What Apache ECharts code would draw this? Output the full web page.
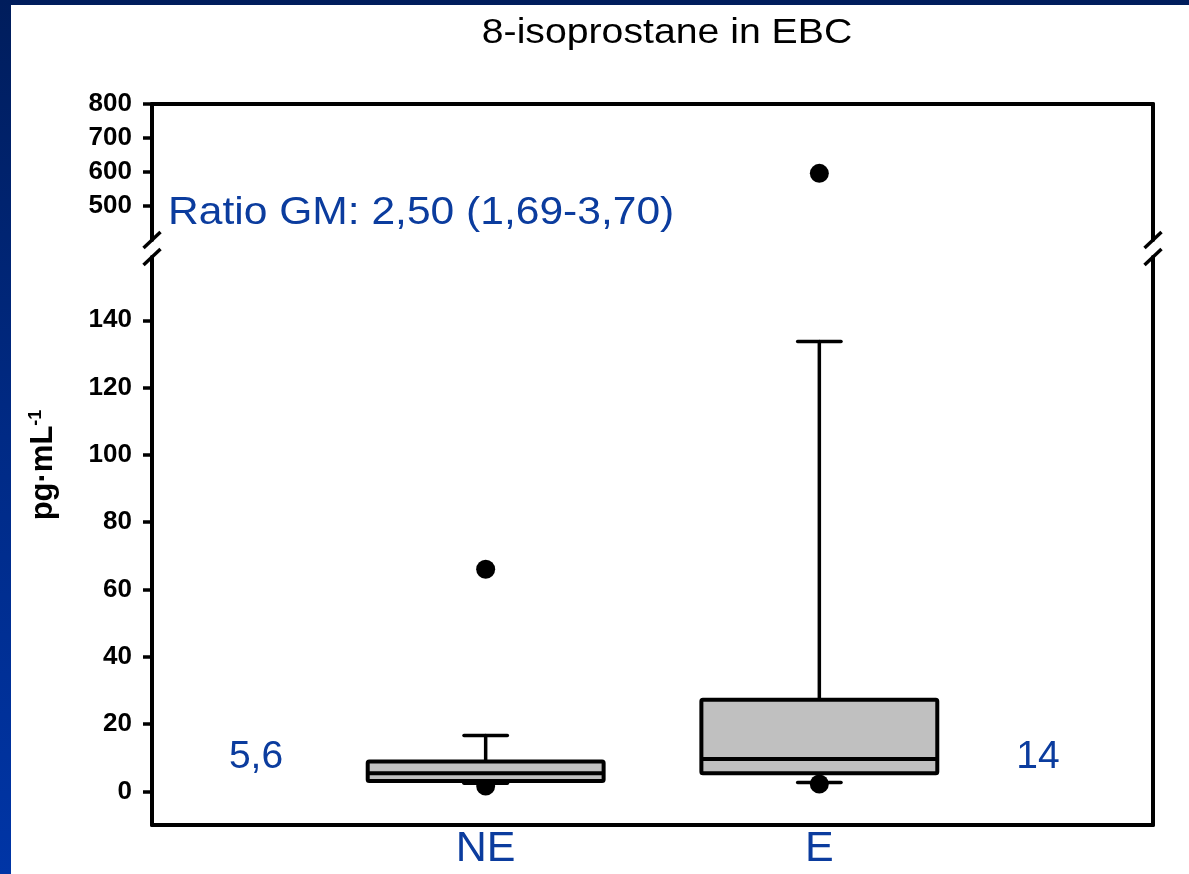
<!DOCTYPE html>
<html>
<head>
<meta charset="utf-8">
<title>8-isoprostane in EBC</title>
<script src="https://cdn.jsdelivr.net/npm/echarts@6/dist/echarts.min.js"></script>
<style>
  html, body { margin: 0; padding: 0; }
  #frame { position: absolute; left: 0; top: 0; width: 1189px; height: 874px;
           background: linear-gradient(to bottom, #001d5c 0%, #002a85 50%, #0035a6 100%); }
  #paper { position: absolute; left: 11px; top: 5px; right: 0; bottom: 0; background: #ffffff; }
  #chart { position: absolute; left: 0; top: 0; width: 1189px; height: 874px; }
</style>
</head>
<body>
<div id="frame"><div id="paper"></div></div>
<div id="chart"></div>
<script>
// Groups on the x axis
const categories = ['NE', 'E'];

// Box-plot statistics per group (pg·mL-1)
const whiskerLow  = [2.4, 2.6];
const q1          = [3.1, 5.4];
const median      = [5.4, 9.6];
const q3          = [8.9, 27.2];
const whiskerHigh = [16.6, 133.7];

// Points outside the whiskers, per group
const outliers = [
  [1.6, 66],
  [2.2, 596]
];

// Geometric means written beside each box
const geoMeanLabels = ['5,6', '14'];
const ratioText = 'Ratio GM: 2,50 (1,69-3,70)';

// Tick labels for the broken y axis
const upperTicks = [500, 600, 700, 800];
const lowerTicks = [0, 20, 40, 60, 80, 100, 120, 140];

// Ranges of the two panels of the broken axis
const upperRange = [400, 800];
const lowerRange = [-10, 158.8];

const FONT = '"Liberation Sans", Arial, sans-serif';
const BLUE = '#0b3c9e';
const LINE_W = 4;
const WIDE = 1.12;   // horizontal stretch of the headline texts

// Panel geometry (pixels)
const PLOT_LEFT = 152, PLOT_RIGHT = 1153;
const UPPER_TOP = 104, UPPER_BOTTOM = 240;
const LOWER_TOP = 257, LOWER_BOTTOM = 825;
const BOX_WIDTH = 0.707, CAP_WIDTH = 0.13;

const boxData = categories.map((c, i) => [i + 1, whiskerLow[i], q1[i], median[i], q3[i], whiskerHigh[i]]);
const lowerPoints = [], upperPoints = [];
outliers.forEach((vals, i) => vals.forEach(v => {
  (v >= upperRange[0] ? upperPoints : lowerPoints).push([i + 1, v]);
}));

const chart = echarts.init(document.getElementById('chart'), null, { renderer: 'canvas' });

const tickLabelStyle = { color: '#000', fontFamily: FONT, fontWeight: 'bold', fontSize: 26, margin: 20 };
const axisLineStyle = { color: '#000', width: LINE_W };

function slash(cx, cy) {
  return { type: 'line', shape: { x1: cx - 8.5, y1: cy + 8, x2: cx + 8.5, y2: cy - 8 },
           style: { stroke: '#000', lineWidth: 3.5 }, z: 10 };
}

const option = {
  animation: false,
  backgroundColor: 'transparent',
  grid: [
    { left: PLOT_LEFT, right: 1189 - PLOT_RIGHT, top: UPPER_TOP, height: UPPER_BOTTOM - UPPER_TOP },
    { left: PLOT_LEFT, right: 1189 - PLOT_RIGHT, top: LOWER_TOP, height: LOWER_BOTTOM - LOWER_TOP }
  ],
  xAxis: [
    { type: 'value', gridIndex: 0, position: 'top', min: 0, max: categories.length + 1,
      axisLine: { show: true, onZero: false, lineStyle: axisLineStyle }, axisTick: { show: false },
      axisLabel: { show: false }, splitLine: { show: false } },
    { type: 'value', gridIndex: 1, position: 'bottom', min: 0, max: categories.length + 1,
      axisLine: { show: true, onZero: false, lineStyle: axisLineStyle }, axisTick: { show: false },
      axisLabel: { show: true, customValues: categories.map((c, i) => i + 1),
                   formatter: v => categories[v - 1] || '',
                   color: BLUE, fontFamily: FONT, fontSize: 43, margin: 3 },
      splitLine: { show: false } }
  ],
  yAxis: [
    { type: 'value', gridIndex: 0, position: 'left', min: upperRange[0], max: upperRange[1],
      axisLine: { show: true, onZero: false, lineStyle: axisLineStyle },
      axisTick: { show: true, inside: false, length: 9, lineStyle: { color: '#000', width: 3.5 }, customValues: upperTicks },
      axisLabel: Object.assign({ customValues: upperTicks }, tickLabelStyle),
      splitLine: { show: false } },
    { type: 'value', gridIndex: 0, position: 'right', min: upperRange[0], max: upperRange[1],
      axisLine: { show: true, onZero: false, lineStyle: axisLineStyle }, axisTick: { show: false },
      axisLabel: { show: false }, splitLine: { show: false } },
    { type: 'value', gridIndex: 1, position: 'left', min: lowerRange[0], max: lowerRange[1],
      axisLine: { show: true, onZero: false, lineStyle: axisLineStyle },
      axisTick: { show: true, inside: false, length: 9, lineStyle: { color: '#000', width: 3.5 }, customValues: lowerTicks },
      axisLabel: Object.assign({ customValues: lowerTicks }, tickLabelStyle),
      splitLine: { show: false } },
    { type: 'value', gridIndex: 1, position: 'right', min: lowerRange[0], max: lowerRange[1],
      axisLine: { show: true, onZero: false, lineStyle: axisLineStyle }, axisTick: { show: false },
      axisLabel: { show: false }, splitLine: { show: false } }
  ],
  series: [
    { type: 'scatter', xAxisIndex: 0, yAxisIndex: 0, data: upperPoints, symbol: 'circle',
      symbolSize: 19, itemStyle: { color: '#000', opacity: 1 }, z: 2, silent: true },
    { type: 'scatter', xAxisIndex: 1, yAxisIndex: 2, data: lowerPoints, symbol: 'circle',
      symbolSize: 19, itemStyle: { color: '#000', opacity: 1 }, z: 2, silent: true },
    {
      type: 'custom', xAxisIndex: 1, yAxisIndex: 2, z: 3, silent: true,
      data: boxData,
      encode: { x: 0, y: [1, 2, 3, 4, 5] },
      renderItem: function (params, api) {
        const x = api.value(0);
        const pLow = api.coord([x, api.value(1)]);
        const pQ1 = api.coord([x, api.value(2)]);
        const pMed = api.coord([x, api.value(3)]);
        const pQ3 = api.coord([x, api.value(4)]);
        const pHigh = api.coord([x, api.value(5)]);
        const unit = api.size([1, 0])[0];
        const cx = pQ1[0];
        const hb = unit * BOX_WIDTH / 2, hc = unit * CAP_WIDTH / 2;
        const lineStyle = { stroke: '#000', lineWidth: 3.5, lineCap: 'round' };
        return {
          type: 'group',
          children: [
            { type: 'line', shape: { x1: cx, y1: pQ3[1], x2: cx, y2: pHigh[1] }, style: lineStyle },
            { type: 'line', shape: { x1: cx - hc, y1: pHigh[1], x2: cx + hc, y2: pHigh[1] }, style: lineStyle },
            { type: 'line', shape: { x1: cx, y1: pQ1[1], x2: cx, y2: pLow[1] }, style: lineStyle },
            { type: 'line', shape: { x1: cx - hc, y1: pLow[1], x2: cx + hc, y2: pLow[1] }, style: lineStyle },
            { type: 'rect', shape: { x: cx - hb, y: pQ3[1], width: hb * 2, height: pQ1[1] - pQ3[1], r: 1.5 },
              style: { fill: '#c0c0c0', stroke: '#000', lineWidth: LINE_W, lineJoin: 'round' } },
            { type: 'line', shape: { x1: cx - hb, y1: pMed[1], x2: cx + hb, y2: pMed[1] },
              style: { stroke: '#000', lineWidth: LINE_W } }
          ]
        };
      }
    }
  ],
  graphic: [
    { type: 'text', x: 667, y: 33, scaleX: WIDE,
      style: { text: '8-isoprostane in EBC', fill: '#000', font: '35px ' + FONT,
               textAlign: 'center', textVerticalAlign: 'middle' } },
    { type: 'text', x: 168, y: 214, scaleX: WIDE,
      style: { text: ratioText, fill: BLUE, font: '38px ' + FONT,
               textAlign: 'left', textVerticalAlign: 'middle' } },
    { type: 'text', x: 256, y: 757,
      style: { text: geoMeanLabels[0], fill: BLUE, font: '39px ' + FONT,
               textAlign: 'center', textVerticalAlign: 'middle' } },
    { type: 'text', x: 1038, y: 757,
      style: { text: geoMeanLabels[1], fill: BLUE, font: '39px ' + FONT,
               textAlign: 'center', textVerticalAlign: 'middle' } },
    { type: 'text', x: 43, y: 465, rotation: Math.PI / 2,
      style: { text: '{a|pg·mL}{b|-1}', textAlign: 'center', textVerticalAlign: 'middle',
               rich: {
                 a: { fontFamily: FONT, fontWeight: 'bold', fontSize: 31, fill: '#000', color: '#000', verticalAlign: 'bottom', lineHeight: 32 },
                 b: { fontFamily: FONT, fontWeight: 'bold', fontSize: 18, fill: '#000', color: '#000', verticalAlign: 'top', lineHeight: 32 }
               } } },
    slash(PLOT_LEFT, UPPER_BOTTOM), slash(PLOT_LEFT, LOWER_TOP),
    slash(PLOT_RIGHT, UPPER_BOTTOM), slash(PLOT_RIGHT, LOWER_TOP)
  ]
};

chart.setOption(option);
</script>
</body>
</html>
